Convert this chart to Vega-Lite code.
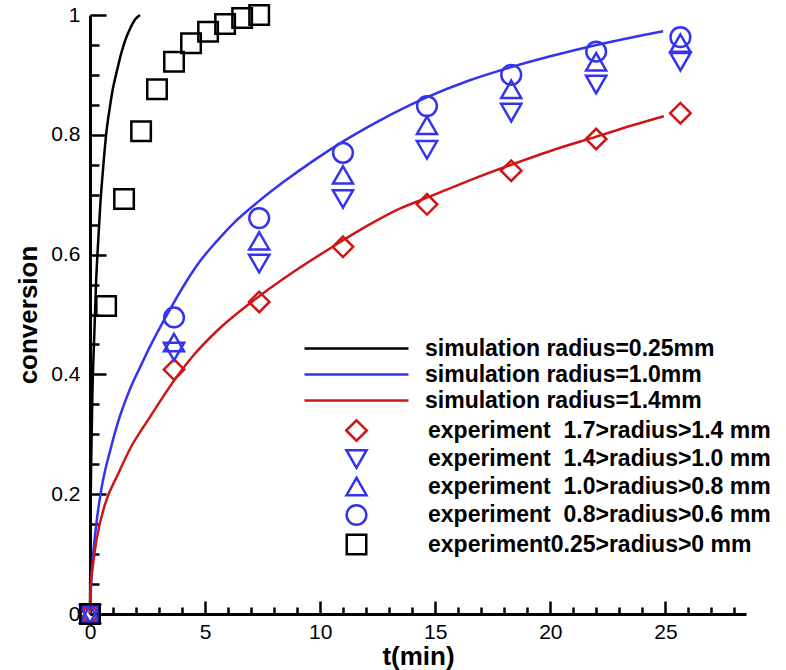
{
  "$schema": "https://vega.github.io/schema/vega-lite/v6.json",
  "autosize": "none",
  "width": 656,
  "height": 599,
  "padding": {"left": 90, "top": 15, "right": 40, "bottom": 56},
  "background": "white",
  "config": {
    "view": {"stroke": null},
    "axis": {
      "grid": false,
      "domainColor": "#000000",
      "domainWidth": 3,
      "tickColor": "#000000",
      "tickWidth": 2.5,
      "labelFont": "Liberation Sans",
      "labelFontSize": 21,
      "labelColor": "#000000",
      "labelFlush": false,
      "labelOverlap": false,
      "labelBound": false,
      "titleFont": "Liberation Sans",
      "titleFontSize": 26,
      "titleFontWeight": "bold",
      "titleColor": "#000000"
    },
    "legend": {
      "labelFont": "Liberation Sans",
      "labelFontSize": 23,
      "labelFontWeight": "bold",
      "labelColor": "#000000",
      "labelLimit": 600,
      "padding": 0
    }
  },
  "datasets": {
    "sim": [
      {"series": "simulation radius=0.25mm", "t": 0, "c": 0},
      {"series": "simulation radius=0.25mm", "t": 0.02, "c": 0.15},
      {"series": "simulation radius=0.25mm", "t": 0.05, "c": 0.25},
      {"series": "simulation radius=0.25mm", "t": 0.1, "c": 0.36},
      {"series": "simulation radius=0.25mm", "t": 0.19, "c": 0.47},
      {"series": "simulation radius=0.25mm", "t": 0.26, "c": 0.55},
      {"series": "simulation radius=0.25mm", "t": 0.36, "c": 0.625},
      {"series": "simulation radius=0.25mm", "t": 0.45, "c": 0.685},
      {"series": "simulation radius=0.25mm", "t": 0.55, "c": 0.735},
      {"series": "simulation radius=0.25mm", "t": 0.7, "c": 0.8},
      {"series": "simulation radius=0.25mm", "t": 0.87, "c": 0.848},
      {"series": "simulation radius=0.25mm", "t": 1.0, "c": 0.878},
      {"series": "simulation radius=0.25mm", "t": 1.16, "c": 0.905},
      {"series": "simulation radius=0.25mm", "t": 1.35, "c": 0.935},
      {"series": "simulation radius=0.25mm", "t": 1.55, "c": 0.96},
      {"series": "simulation radius=0.25mm", "t": 1.75, "c": 0.978},
      {"series": "simulation radius=0.25mm", "t": 1.95, "c": 0.992},
      {"series": "simulation radius=0.25mm", "t": 2.17, "c": 1.0},
      {"series": "simulation radius=1.0mm", "t": 0, "c": 0},
      {"series": "simulation radius=1.0mm", "t": 0.05, "c": 0.05},
      {"series": "simulation radius=1.0mm", "t": 0.14, "c": 0.1},
      {"series": "simulation radius=1.0mm", "t": 0.29, "c": 0.155},
      {"series": "simulation radius=1.0mm", "t": 0.5, "c": 0.21},
      {"series": "simulation radius=1.0mm", "t": 0.87, "c": 0.272},
      {"series": "simulation radius=1.0mm", "t": 1.23, "c": 0.322},
      {"series": "simulation radius=1.0mm", "t": 1.7, "c": 0.372},
      {"series": "simulation radius=1.0mm", "t": 2.25, "c": 0.418},
      {"series": "simulation radius=1.0mm", "t": 2.6, "c": 0.446},
      {"series": "simulation radius=1.0mm", "t": 3.25, "c": 0.493},
      {"series": "simulation radius=1.0mm", "t": 4.2, "c": 0.556},
      {"series": "simulation radius=1.0mm", "t": 4.8, "c": 0.59},
      {"series": "simulation radius=1.0mm", "t": 5.5, "c": 0.622},
      {"series": "simulation radius=1.0mm", "t": 6.2, "c": 0.651},
      {"series": "simulation radius=1.0mm", "t": 7.3, "c": 0.688},
      {"series": "simulation radius=1.0mm", "t": 8.4, "c": 0.721},
      {"series": "simulation radius=1.0mm", "t": 9.6, "c": 0.754},
      {"series": "simulation radius=1.0mm", "t": 11, "c": 0.789},
      {"series": "simulation radius=1.0mm", "t": 12.5, "c": 0.822},
      {"series": "simulation radius=1.0mm", "t": 14.6, "c": 0.862},
      {"series": "simulation radius=1.0mm", "t": 16.5, "c": 0.891},
      {"series": "simulation radius=1.0mm", "t": 18.3, "c": 0.913},
      {"series": "simulation radius=1.0mm", "t": 20, "c": 0.931},
      {"series": "simulation radius=1.0mm", "t": 22, "c": 0.95},
      {"series": "simulation radius=1.0mm", "t": 24.9, "c": 0.973},
      {"series": "simulation radius=1.4mm", "t": 0, "c": 0},
      {"series": "simulation radius=1.4mm", "t": 0.02, "c": 0.04},
      {"series": "simulation radius=1.4mm", "t": 0.14, "c": 0.085},
      {"series": "simulation radius=1.4mm", "t": 0.29, "c": 0.125},
      {"series": "simulation radius=1.4mm", "t": 0.65, "c": 0.183},
      {"series": "simulation radius=1.4mm", "t": 1.2, "c": 0.232},
      {"series": "simulation radius=1.4mm", "t": 1.8, "c": 0.28},
      {"series": "simulation radius=1.4mm", "t": 2.54, "c": 0.325},
      {"series": "simulation radius=1.4mm", "t": 3.77, "c": 0.396},
      {"series": "simulation radius=1.4mm", "t": 4.5, "c": 0.432},
      {"series": "simulation radius=1.4mm", "t": 5.5, "c": 0.472},
      {"series": "simulation radius=1.4mm", "t": 6.96, "c": 0.519},
      {"series": "simulation radius=1.4mm", "t": 8.8, "c": 0.57},
      {"series": "simulation radius=1.4mm", "t": 10.58, "c": 0.614},
      {"series": "simulation radius=1.4mm", "t": 12, "c": 0.647},
      {"series": "simulation radius=1.4mm", "t": 13.48, "c": 0.677},
      {"series": "simulation radius=1.4mm", "t": 14.64, "c": 0.695},
      {"series": "simulation radius=1.4mm", "t": 16.5, "c": 0.724},
      {"series": "simulation radius=1.4mm", "t": 18.3, "c": 0.75},
      {"series": "simulation radius=1.4mm", "t": 20, "c": 0.773},
      {"series": "simulation radius=1.4mm", "t": 22, "c": 0.797},
      {"series": "simulation radius=1.4mm", "t": 23.5, "c": 0.815},
      {"series": "simulation radius=1.4mm", "t": 24.93, "c": 0.831}
    ],
    "exp": [
      {"series": "experiment\u00a0 1.7>radius>1.4 mm", "t": 0, "c": 0},
      {"series": "experiment\u00a0 1.7>radius>1.4 mm", "t": 3.65, "c": 0.408},
      {"series": "experiment\u00a0 1.7>radius>1.4 mm", "t": 7.35, "c": 0.521},
      {"series": "experiment\u00a0 1.7>radius>1.4 mm", "t": 10.99, "c": 0.613},
      {"series": "experiment\u00a0 1.7>radius>1.4 mm", "t": 14.64, "c": 0.684},
      {"series": "experiment\u00a0 1.7>radius>1.4 mm", "t": 18.3, "c": 0.74},
      {"series": "experiment\u00a0 1.7>radius>1.4 mm", "t": 21.99, "c": 0.793},
      {"series": "experiment\u00a0 1.7>radius>1.4 mm", "t": 25.65, "c": 0.836},
      {"series": "experiment\u00a0 1.4>radius>1.0 mm", "t": 0, "c": 0},
      {"series": "experiment\u00a0 1.4>radius>1.0 mm", "t": 3.65, "c": 0.438},
      {"series": "experiment\u00a0 1.4>radius>1.0 mm", "t": 7.35, "c": 0.585},
      {"series": "experiment\u00a0 1.4>radius>1.0 mm", "t": 10.99, "c": 0.693},
      {"series": "experiment\u00a0 1.4>radius>1.0 mm", "t": 14.64, "c": 0.775},
      {"series": "experiment\u00a0 1.4>radius>1.0 mm", "t": 18.3, "c": 0.837},
      {"series": "experiment\u00a0 1.4>radius>1.0 mm", "t": 21.99, "c": 0.884},
      {"series": "experiment\u00a0 1.4>radius>1.0 mm", "t": 25.65, "c": 0.922},
      {"series": "experiment\u00a0 1.0>radius>0.8 mm", "t": 0, "c": 0},
      {"series": "experiment\u00a0 1.0>radius>0.8 mm", "t": 3.65, "c": 0.453},
      {"series": "experiment\u00a0 1.0>radius>0.8 mm", "t": 7.35, "c": 0.623},
      {"series": "experiment\u00a0 1.0>radius>0.8 mm", "t": 10.99, "c": 0.733},
      {"series": "experiment\u00a0 1.0>radius>0.8 mm", "t": 14.64, "c": 0.816},
      {"series": "experiment\u00a0 1.0>radius>0.8 mm", "t": 18.3, "c": 0.876},
      {"series": "experiment\u00a0 1.0>radius>0.8 mm", "t": 21.99, "c": 0.922},
      {"series": "experiment\u00a0 1.0>radius>0.8 mm", "t": 25.65, "c": 0.953},
      {"series": "experiment\u00a0 0.8>radius>0.6 mm", "t": 0, "c": 0},
      {"series": "experiment\u00a0 0.8>radius>0.6 mm", "t": 3.65, "c": 0.495},
      {"series": "experiment\u00a0 0.8>radius>0.6 mm", "t": 7.35, "c": 0.661},
      {"series": "experiment\u00a0 0.8>radius>0.6 mm", "t": 10.99, "c": 0.77},
      {"series": "experiment\u00a0 0.8>radius>0.6 mm", "t": 14.64, "c": 0.848},
      {"series": "experiment\u00a0 0.8>radius>0.6 mm", "t": 18.3, "c": 0.9},
      {"series": "experiment\u00a0 0.8>radius>0.6 mm", "t": 21.99, "c": 0.939},
      {"series": "experiment\u00a0 0.8>radius>0.6 mm", "t": 25.65, "c": 0.963},
      {"series": "experiment0.25>radius>0 mm", "t": 0, "c": 0},
      {"series": "experiment0.25>radius>0 mm", "t": 0.7, "c": 0.514},
      {"series": "experiment0.25>radius>0 mm", "t": 1.48, "c": 0.693},
      {"series": "experiment0.25>radius>0 mm", "t": 2.22, "c": 0.806},
      {"series": "experiment0.25>radius>0 mm", "t": 2.91, "c": 0.876},
      {"series": "experiment0.25>radius>0 mm", "t": 3.65, "c": 0.922},
      {"series": "experiment0.25>radius>0 mm", "t": 4.39, "c": 0.953},
      {"series": "experiment0.25>radius>0 mm", "t": 5.13, "c": 0.972},
      {"series": "experiment0.25>radius>0 mm", "t": 5.87, "c": 0.985},
      {"series": "experiment0.25>radius>0 mm", "t": 6.61, "c": 0.995},
      {"series": "experiment0.25>radius>0 mm", "t": 7.35, "c": 1.0}
    ]
  },
  "layer": [
    {
      "data": {"name": "sim"},
      "mark": {"type": "point", "opacity": 0},
      "encoding": {
        "x": {
          "field": "t", "type": "quantitative",
          "scale": {"domain": [0, 28.5], "nice": false, "zero": false},
          "axis": {
            "orient": "bottom",
            "values": [1,2,3,4,6,7,8,9,11,12,13,14,16,17,18,19,21,22,23,24,26,27,28],
            "labels": false,
            "domain": false,
            "title": null,
            "tickSize": -7
          }
        },
        "y": {
          "field": "c", "type": "quantitative",
          "scale": {"domain": [0, 1], "nice": false},
          "axis": {
            "orient": "left",
            "values": [0.05,0.1,0.15,0.25,0.3,0.35,0.45,0.5,0.55,0.65,0.7,0.75,0.85,0.9,0.95],
            "labels": false,
            "domain": false,
            "title": null,
            "tickSize": -9
          }
        }
      }
    },
    {
      "data": {"name": "sim"},
      "mark": {"type": "line", "strokeWidth": 2.5, "interpolate": "monotone", "clip": false},
      "encoding": {
        "x": {
          "field": "t", "type": "quantitative",
          "scale": {"domain": [0, 28.5], "nice": false, "zero": false},
          "axis": {
            "orient": "bottom",
            "title": "t(min)",
            "values": [0, 5, 10, 15, 20, 25],
            "format": "~g",
            "tickSize": -13,
            "labelPadding": 20,
            "titlePadding": 1
          }
        },
        "y": {
          "field": "c", "type": "quantitative",
          "scale": {"domain": [0, 1], "nice": false},
          "axis": {
            "orient": "left",
            "title": "conversion",
            "values": [0, 0.2, 0.4, 0.6, 0.8, 1],
            "format": "~g",
            "tickSize": -16,
            "labelPadding": 26,
            "titlePadding": 9
          }
        },
        "stroke": {
          "field": "series", "type": "nominal",
          "scale": {
            "domain": ["simulation radius=0.25mm", "simulation radius=1.0mm", "simulation radius=1.4mm"],
            "range": ["#000000", "#3333f0", "#d01515"]
          },
          "legend": {
            "title": null,
            "orient": "none",
            "legendX": 255,
            "legendY": 322,
            "symbolType": "M-5.2,0H5.2",
            "symbolSize": 400,
            "symbolStrokeWidth": 2.5,
            "labelOffset": 57,
            "rowPadding": 2
          }
        }
      }
    },
    {
      "data": {"name": "exp"},
      "mark": {"type": "point", "filled": false, "strokeWidth": 2.5, "opacity": 1, "clip": false},
      "encoding": {
        "x": {
          "field": "t", "type": "quantitative",
          "scale": {"domain": [0, 28.5], "nice": false, "zero": false},
          "axis": null
        },
        "y": {
          "field": "c", "type": "quantitative",
          "scale": {"domain": [0, 1], "nice": false},
          "axis": null
        },
        "color": {
          "field": "series", "type": "nominal",
          "scale": {
            "domain": ["experiment\u00a0 1.7>radius>1.4 mm", "experiment\u00a0 1.4>radius>1.0 mm", "experiment\u00a0 1.0>radius>0.8 mm", "experiment\u00a0 0.8>radius>0.6 mm", "experiment0.25>radius>0 mm"],
            "range": ["#d01515", "#3333f0", "#3333f0", "#3333f0", "#000000"]
          },
          "legend": {
            "title": null,
            "orient": "none",
            "legendX": 255,
            "legendY": 404,
            "labelOffset": 60,
            "rowPadding": -1.5,
            "symbolStrokeWidth": 2.5
          }
        },
        "shape": {
          "field": "series", "type": "nominal",
          "scale": {
            "domain": ["experiment\u00a0 1.7>radius>1.4 mm", "experiment\u00a0 1.4>radius>1.0 mm", "experiment\u00a0 1.0>radius>0.8 mm", "experiment\u00a0 0.8>radius>0.6 mm", "experiment0.25>radius>0 mm"],
            "range": ["diamond", "triangle-down", "triangle-up", "circle", "square"]
          }
        },
        "size": {
          "field": "series", "type": "nominal",
          "scale": {
            "domain": ["experiment\u00a0 1.7>radius>1.4 mm", "experiment\u00a0 1.4>radius>1.0 mm", "experiment\u00a0 1.0>radius>0.8 mm", "experiment\u00a0 0.8>radius>0.6 mm", "experiment0.25>radius>0 mm"],
            "range": [420, 380, 380, 480, 240]
          }
        }
      }
    }
  ],
  "resolve": {"axis": {"x": "independent", "y": "independent"}}
}
